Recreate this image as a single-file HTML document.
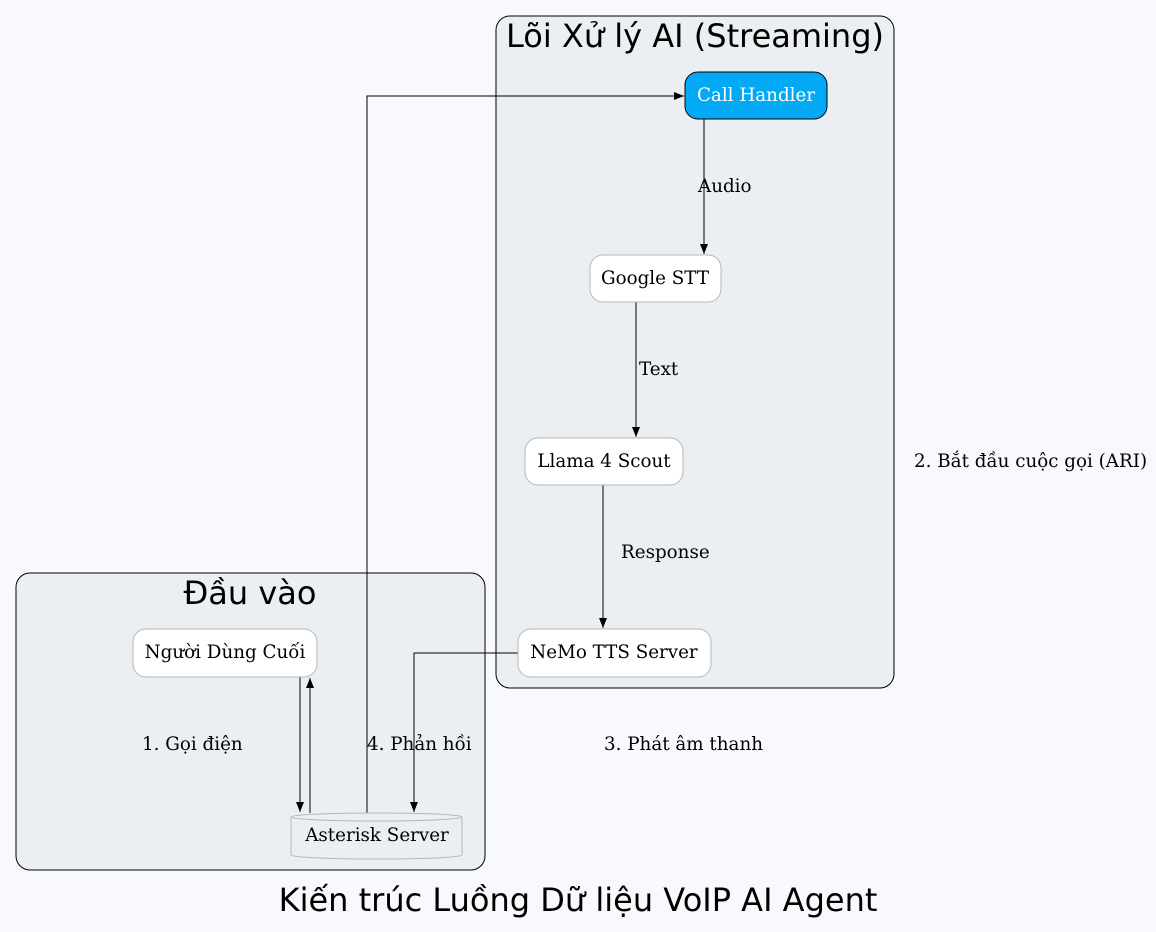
<!DOCTYPE html>
<html><head><meta charset="utf-8"><style>
html,body{margin:0;padding:0;background:#f8f9fc;}
svg{display:block}
.t{font-family:"DejaVu Sans","Liberation Sans",sans-serif;font-size:32px;fill:#000}
.n{font-family:"DejaVu Serif","Liberation Serif",serif;font-size:18.3px;fill:#000}
</style></head><body>
<svg width="1156" height="932" viewBox="0 0 1156 932" xmlns="http://www.w3.org/2000/svg">
<defs><marker id="a" markerWidth="10" markerHeight="8" refX="10" refY="4" orient="auto" markerUnits="userSpaceOnUse"><path d="M0,0L10,4L0,8z" fill="#000"/></marker></defs>
<rect width="1156" height="932" fill="#f8f9fc"/>
<rect x="496" y="16" width="398" height="672" rx="14" fill="#ebeff2" stroke="#000"/>
<rect x="16" y="573" width="469" height="297" rx="14" fill="#ebeff2" stroke="#000"/>
<text class="t" x="695" y="47" text-anchor="middle">Lõi Xử lý AI (Streaming)</text>
<text class="t" x="250" y="604" text-anchor="middle">Đầu vào</text>
<g stroke="#000" fill="none" stroke-width="1">
<path d="M704,119V254" marker-end="url(#a)"/>
<path d="M636,302V437" marker-end="url(#a)"/>
<path d="M603,485V628" marker-end="url(#a)"/>
<path d="M518,653H414V812" marker-end="url(#a)"/>
<path d="M367,813V96H684" marker-end="url(#a)"/>
<path d="M300,677V812" marker-end="url(#a)"/>
<path d="M310,813V678" marker-end="url(#a)"/>
</g>
<rect x="685" y="72" width="142" height="47" rx="13" fill="#03a9f4" stroke="#000"/>
<text class="n" x="756" y="101" text-anchor="middle" style="fill:#fff">Call Handler</text>
<rect x="590" y="255" width="131" height="47" rx="13" fill="#fff" stroke="#b0b8be"/>
<text class="n" x="655" y="284" text-anchor="middle">Google STT</text>
<rect x="525" y="438" width="158" height="47" rx="13" fill="#fff" stroke="#b0b8be"/>
<text class="n" x="604" y="467" text-anchor="middle">Llama 4 Scout</text>
<rect x="518" y="629" width="193" height="48" rx="13" fill="#fff" stroke="#b0b8be"/>
<text class="n" x="614" y="658" text-anchor="middle">NeMo TTS Server</text>
<rect x="133" y="629" width="184" height="48" rx="13" fill="#fff" stroke="#b0b8be"/>
<text class="n" x="225" y="658" text-anchor="middle">Người Dùng Cuối</text>
<path d="M291,817V855A85.5,4 0 0 0 462,855V817" fill="#ebeff2" stroke="#b0b8be"/>
<ellipse cx="376.5" cy="817" rx="85.5" ry="4" fill="#ebeff2" stroke="#b0b8be"/>
<text class="n" x="377" y="841" text-anchor="middle">Asterisk Server</text>
<text class="n" x="698" y="192">Audio</text>
<text class="n" x="639" y="375">Text</text>
<text class="n" x="621" y="558">Response</text>
<text class="n" x="367" y="750">4. Phản hồi</text>
<text class="n" x="142" y="750">1. Gọi điện</text>
<text class="n" x="604" y="750">3. Phát âm thanh</text>
<text class="n" x="914" y="467">2. Bắt đầu cuộc gọi (ARI)</text>
<text class="t" x="578" y="911" text-anchor="middle">Kiến trúc Luồng Dữ liệu VoIP AI Agent</text>
</svg>
</body></html>
